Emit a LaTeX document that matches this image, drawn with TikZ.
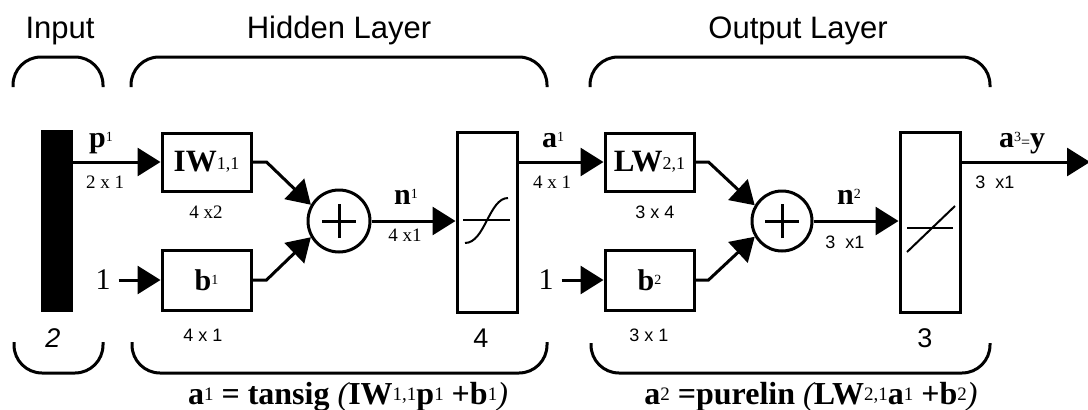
\documentclass[tikz,border=0pt]{standalone}
\usepackage{fontspec}
\setmainfont{Liberation Serif}
\newfontfamily\hel{Liberation Sans}
\usetikzlibrary{arrows.meta}
\newcommand\fs[1]{\fontsize{#1}{#1}\selectfont}
\newcommand\supd[1]{\raisebox{6pt}{\fs{14}\mdseries #1}}
\newcommand\subd[1]{\raisebox{2pt}{\fs{18}\mdseries #1}}
\newcommand\midd[1]{\raisebox{4pt}{\fs{19}\mdseries #1}}
\newcommand\ipar[1]{{\mdseries\itshape #1}}
\begin{document}
\begin{tikzpicture}[x=1pt,y=-1pt,
 box/.style={draw, line width=3pt, inner sep=0pt},
 arr/.style={-{Triangle[length=23pt,width=28pt]}, line width=3pt},
 brace/.style={line width=3pt, rounded corners=28pt},
 ttl/.style={font=\hel\fs{31}, anchor=base, inner sep=0pt},
 dim/.style={font=\fs{19}, inner sep=0pt},
 dims/.style={font=\hel\fs{18}, inner sep=0pt},
 lbl/.style={font=\bfseries\fs{30}, anchor=base west, inner sep=0pt},
 big/.style={font=\hel\fs{27}, inner sep=0pt},
 one/.style={font=\fs{30}, inner sep=0pt},
 sym/.style={line width=2pt},
 eq/.style={font=\bfseries\fs{32}, anchor=base, inner sep=0pt}]
\useasboundingbox (0,0) rectangle (1088,410);
% titles
\node[ttl] (tin) at (60,38) {Input};
\node[ttl] (thid) at (339,38) {Hidden Layer};
\node[ttl] (tout) at (798,38) {Output Layer};
% braces
\draw[brace] (13,87) -- (13,57) -- (103,57) -- (103,87);
\draw[brace] (131,87) -- (131,57) -- (547,57) -- (547,87);
\draw[brace] (590,87) -- (590,57) -- (990,57) -- (990,87);
\draw[brace] (14,342) -- (14,373) -- (103,373) -- (103,342);
\draw[brace] (132,342) -- (132,373) -- (547,373) -- (547,342);
\draw[brace] (591,343) -- (591,373) -- (990,373) -- (990,343);
% blocks
\node[fill=black, minimum width=32pt, minimum height=182pt, inner sep=0pt] (bar) at (57,221) {};
\node[box, minimum width=89pt, minimum height=58pt] (IW) at (206.5,162) {\bfseries\fs{31}IW\subd{1,1}};
\node[box, minimum width=89pt, minimum height=60pt] (b1) at (206.5,280) {\bfseries\fs{30}b\supd{1}};
\node[one] (one1) at (103,280) {1};
\node[box, circle, minimum size=62pt] (sum1) at (339,221) {};
\node[box, minimum width=60pt, minimum height=180pt] (tan) at (487,222) {};
\node[box, minimum width=89pt, minimum height=58pt] (LW) at (649.5,162) {\bfseries\fs{31}LW\subd{2,1}};
\node[box, minimum width=89pt, minimum height=60pt] (b2) at (649.5,280) {\bfseries\fs{30}b\supd{2}};
\node[one] (one2) at (546,280) {1};
\node[box, circle, minimum size=60pt] (sum2) at (782,221) {};
\node[box, minimum width=60pt, minimum height=180pt] (lin) at (930,222) {};
\coordinate (yout) at (1090,162);
% plus signs
\draw[line width=3pt] ([xshift=-17pt]sum1.center) -- ([xshift=17pt]sum1.center);
\draw[line width=3pt] ([yshift=-17pt]sum1.center) -- ([yshift=17pt]sum1.center);
\draw[line width=3pt] ([xshift=-17pt]sum2.center) -- ([xshift=17pt]sum2.center);
\draw[line width=3pt] ([yshift=-17pt]sum2.center) -- ([yshift=17pt]sum2.center);
% transfer symbols
\draw[sym] (463,220) -- (510,220);
\draw[sym] (465,243) .. controls (485,243) and (489,198) .. (508,198);
\draw[sym] (907,228) -- (953,228);
\draw[sym] (907,252) -- (955,206);
% connectors
\draw[arr] (bar.east |- IW.west) -- (IW.west);
\draw[arr] ([xshift=8pt]one1.east) -- (b1.west);
\draw[arr] (IW.east) -- ++(14,0) -- (sum1.150);
\draw[arr] (b1.east) -- ++(14,0) -- (sum1.210);
\draw[arr] (sum1.east) -- (tan.west |- sum1.east);
\draw[arr] (tan.east |- LW.west) -- (LW.west);
\draw[arr] ([xshift=8pt]one2.east) -- (b2.west);
\draw[arr] (LW.east) -- ++(13,0) -- (sum2.150);
\draw[arr] (b2.east) -- ++(13,0) -- (sum2.210);
\draw[arr] (sum2.east) -- (lin.west |- sum2.east);
\draw[arr] (lin.east |- yout) -- (yout);
% signal labels
\node[lbl] (lp) at (89,147) {p\supd{1}};
\node[lbl] (la1) at (542,147) {a\supd{1}};
\node[lbl] (ln1) at (394,204) {n\supd{1}};
\node[lbl] (ln2) at (837,204) {n\supd{2}};
\node[lbl] (la3) at (999,147) {a\supd{3}{\mdseries\fs{16}=}y};
% dimension labels
\node[dim] (d1) at (105,182) {2 x 1};
\node[dim] (d2) at (206,212) {4 x2};
\node[dims] (d3) at (203,335) {4 x 1};
\node[dim] (d4) at (405,235) {4 x1};
\node[dim] (d5) at (552,182) {4 x 1};
\node[dims] (d6) at (655,212) {3 x 4};
\node[dims] (d7) at (649,335) {3 x 1};
\node[dims] (d8) at (845,242) {3 \ x1};
\node[dims] (d9) at (995,182) {3 \ x1};
% size labels
\node[big] (s1) at (53,338) {\itshape 2};
\node[big] (s2) at (481,338) {4};
\node[big] (s3) at (925,338) {3};
% equations
\node[eq] (f1) at (348,404) {a\midd{1} = tansig \ipar{(}IW\midd{1,1}p\midd{1} +b\midd{1}\ipar{)}};
\node[eq] (f2) at (811,404) {a\midd{2} =purelin \ipar{(}LW\midd{2,1}a\midd{1} +b\midd{2}\ipar{)}};
\end{tikzpicture}
\end{document}
